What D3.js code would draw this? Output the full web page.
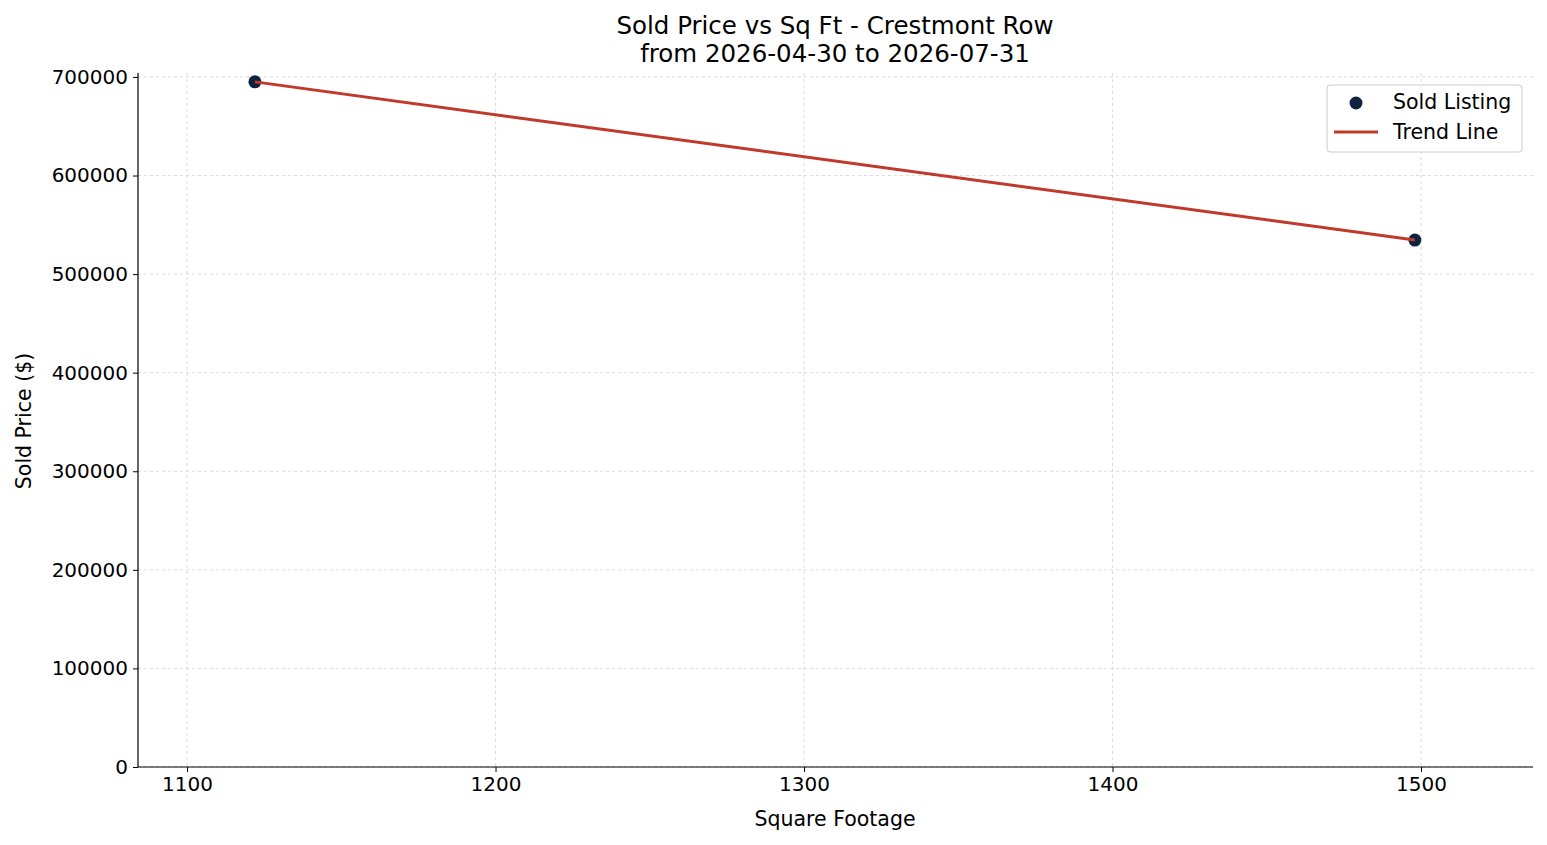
<!DOCTYPE html>
<html><head><meta charset="utf-8">
<script src="https://cdn.jsdelivr.net/npm/d3@7"></script>
<style>body{margin:0;background:#fff;font-family:"DejaVu Sans",sans-serif;} text{font-family:"DejaVu Sans",sans-serif;}</style>
</head><body><svg id="c" width="1547" height="845"></svg>
<script>
const sqft = [1122, 1498];
const price = [695000, 534500];
const trendX = [1122, 1498];
const trendY = [695000, 534500];
const xTicks = [1100, 1200, 1300, 1400, 1500];
const yTicks = [0, 100000, 200000, 300000, 400000, 500000, 600000, 700000];

const svg = d3.select("#c");
const L = 138, R = 1533, T = 73, B = 767;
const x = d3.scaleLinear().domain([1084.1, 1536.3]).range([L, R]);
const y = d3.scaleLinear().domain([0, 704000]).range([B, T]);

const g = svg.append("g");
g.selectAll(".gx").data(xTicks).join("line").attr("x1", d => x(d)).attr("x2", d => x(d))
  .attr("y1", T).attr("y2", B).attr("stroke", "#d0d0d0").attr("stroke-dasharray", "3,3").attr("stroke-width", 0.8);
g.selectAll(".gy").data(yTicks).join("line").attr("y1", d => y(d)).attr("y2", d => y(d))
  .attr("x1", L).attr("x2", R).attr("stroke", "#d0d0d0").attr("stroke-dasharray", "3,3").attr("stroke-width", 0.8);

const xa = svg.append("g").attr("transform", `translate(0,${B})`).call(d3.axisBottom(x).tickValues(xTicks).tickSize(5).tickPadding(5).tickFormat(d3.format("d")));
const ya = svg.append("g").attr("transform", `translate(${L},0)`).call(d3.axisLeft(y).tickValues(yTicks).tickSize(5).tickPadding(5).tickFormat(d3.format("d")));
[xa, ya].forEach(a => { a.attr("font-size", null).attr("font-family", null); a.selectAll("text").style("font-size", "20px").attr("fill", "#000"); a.select(".domain").attr("stroke", "#000").attr("stroke-width", 1.2); a.selectAll(".tick line").attr("stroke", "#000"); });
xa.select(".domain").attr("d", `M${L},0H${R}`);
ya.select(".domain").attr("d", `M0,${B}V${T}`);

svg.selectAll(".pt").data(sqft).join("circle").attr("cx", d => x(d)).attr("cy", (d, i) => y(price[i]))
  .attr("r", 6.5).attr("fill", "#0d2340");
svg.append("path").datum(trendX.map((v, i) => [v, trendY[i]]))
  .attr("d", d3.line().x(d => x(d[0])).y(d => y(d[1])))
  .attr("fill", "none").attr("stroke", "#c0392b").attr("stroke-width", 3);

const t = svg.append("text").attr("text-anchor", "middle").style("font-size", "24.5px").attr("fill", "#000");
t.append("tspan").attr("x", 835).attr("y", 34).text("Sold Price vs Sq Ft - Crestmont Row");
t.append("tspan").attr("x", 835).attr("y", 62).text("from 2026-04-30 to 2026-07-31");
svg.append("text").attr("x", 835).attr("y", 826).attr("text-anchor", "middle").style("font-size", "20.5px").text("Square Footage");
svg.append("text").attr("transform", "translate(31,421) rotate(-90)").attr("text-anchor", "middle").style("font-size", "20.5px").text("Sold Price ($)");

const lg = svg.append("g");
lg.append("rect").attr("x", 1327).attr("y", 85).attr("width", 195).attr("height", 67).attr("rx", 3)
  .attr("fill", "#fff").attr("fill-opacity", 0.8).attr("stroke", "#ccc");
lg.append("circle").attr("cx", 1356).attr("cy", 103).attr("r", 6.5).attr("fill", "#0d2340");
lg.append("line").attr("x1", 1334).attr("x2", 1378).attr("y1", 132).attr("y2", 132).attr("stroke", "#c0392b").attr("stroke-width", 3);
lg.append("text").attr("x", 1393).attr("y", 109).style("font-size", "20.5px").text("Sold Listing");
lg.append("text").attr("x", 1393).attr("y", 139).style("font-size", "20.5px").text("Trend Line");
</script></body></html>
